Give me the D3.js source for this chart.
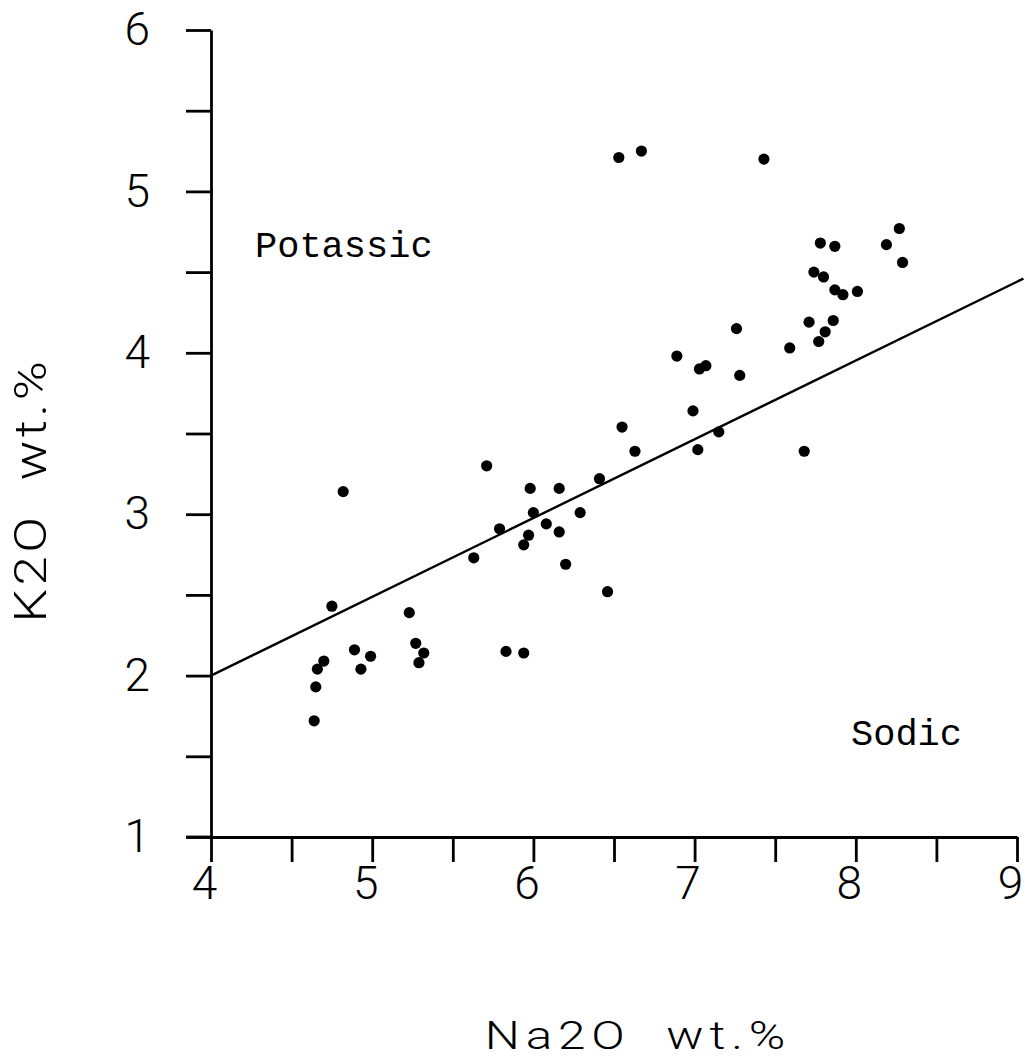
<!DOCTYPE html>
<html>
<head>
<meta charset="utf-8">
<script src="https://cdn.jsdelivr.net/npm/d3@7"></script>
<style>
  body { margin: 0; background: #fff; }
  svg { display: block; }
  .axis path, .axis line { stroke: #000; stroke-width: 2.8; }
  .axis text { font-family: Roboto, "DejaVu Sans", sans-serif; font-weight: 300; font-size: 46px; fill: #000; }
  .title { font-family: Roboto, "DejaVu Sans", sans-serif; font-weight: 300; fill: #000; white-space: pre; }
  .region { font-family: "Liberation Mono", "DejaVu Sans Mono", monospace; font-size: 37px; fill: #000; }
</style>
</head>
<body>
<svg id="chart" width="1025" height="1062"></svg>
<script>
// Na2O (x) and K2O (y), wt.%
var na2o = [4.82, 5.71, 5.98, 6.16, 6.41, 6.00, 6.29, 5.79, 6.08, 6.16,
            5.97, 5.94, 5.63, 6.20, 4.75, 5.23, 4.89, 4.99, 4.70, 4.66,
            4.93, 5.27, 5.32, 5.29, 5.83, 5.94, 4.65, 4.64, 6.46, 6.53,
            6.67, 7.43, 7.26, 7.59, 6.89, 7.03, 7.07, 7.28, 6.99, 6.55,
            6.63, 7.02, 7.15, 8.27, 7.78, 7.87, 8.19, 8.29, 7.74, 7.80,
            7.87, 7.92, 8.01, 7.71, 7.86, 7.81, 7.77, 7.68];
var k2o  = [3.14, 3.30, 3.16, 3.16, 3.22, 3.01, 3.01, 2.91, 2.94, 2.89,
            2.87, 2.81, 2.73, 2.69, 2.43, 2.39, 2.16, 2.12, 2.09, 2.04,
            2.04, 2.20, 2.14, 2.08, 2.15, 2.14, 1.93, 1.72, 2.52, 5.21,
            5.25, 5.20, 4.15, 4.03, 3.98, 3.90, 3.92, 3.86, 3.64, 3.54,
            3.39, 3.40, 3.51, 4.77, 4.68, 4.66, 4.67, 4.56, 4.50, 4.47,
            4.39, 4.36, 4.38, 4.19, 4.20, 4.13, 4.07, 3.39];

// dividing line between potassic and sodic fields
var divX = [4, 9.04];
var divY = [2, 4.46];

var xTicks = [4, 4.5, 5, 5.5, 6, 6.5, 7, 7.5, 8, 8.5, 9];
var yTicks = [1, 1.5, 2, 2.5, 3, 3.5, 4, 4.5, 5, 5.5, 6];

var svg = d3.select("#chart");

var x = d3.scaleLinear().domain([4, 9]).range([211, 1017]),
    y = d3.scaleLinear().domain([1, 6]).range([837, 30]);

var fmt = function(d) { return d % 1 === 0 ? d : ""; };

var gx = svg.append("g")
    .attr("class", "axis")
    .attr("transform", "translate(0," + y(1) + ")")
    .call(d3.axisBottom(x).tickValues(xTicks).tickSize(25).tickSizeOuter(0)
        .tickPadding(4).tickFormat(fmt));
gx.selectAll("text").attr("dx", -7);

var gy = svg.append("g")
    .attr("class", "axis")
    .attr("transform", "translate(" + x(4) + ",0)")
    .call(d3.axisLeft(y).tickValues(yTicks).tickSize(25).tickSizeOuter(0)
        .tickPadding(36).tickFormat(fmt));

svg.selectAll(".axis").attr("font-family", null).attr("font-size", null);

// x axis line runs on past the y axis to the tick ends
svg.append("line")
    .attr("x1", x(4) - 25).attr("x2", x(4))
    .attr("y1", y(1)).attr("y2", y(1))
    .attr("stroke", "#000").attr("stroke-width", 2.8);

svg.append("line")
    .attr("x1", x(divX[0])).attr("y1", y(divY[0]))
    .attr("x2", x(divX[1])).attr("y2", y(divY[1]))
    .attr("stroke", "#000").attr("stroke-width", 2.4);

svg.append("g")
    .selectAll("circle")
    .data(d3.range(na2o.length))
    .enter()
    .append("circle")
    .attr("cx", function(i) { return x(na2o[i]); })
    .attr("cy", function(i) { return y(k2o[i]); })
    .attr("r", 5.6)
    .attr("fill", "#000");

svg.append("text")
    .attr("class", "region")
    .attr("x", 255).attr("y", 257)
    .text("Potassic");

svg.append("text")
    .attr("class", "region")
    .attr("x", 851).attr("y", 745)
    .text("Sodic");

// plotter lettering is wide, so stretch the titles along the baseline
svg.append("text")
    .attr("class", "title")
    .attr("transform", "translate(638,1049) scale(1.3,1)")
    .attr("text-anchor", "middle")
    .style("font-size", "38px")
    .style("letter-spacing", "4.5px")
    .text("Na2O  wt.%");

svg.append("text")
    .attr("class", "title")
    .attr("transform", "translate(46,490) rotate(-90) scale(1.2,1)")
    .attr("text-anchor", "middle")
    .style("font-size", "44px")
    .style("letter-spacing", "3px")
    .text("K2O  wt.%");
</script>
</body>
</html>
